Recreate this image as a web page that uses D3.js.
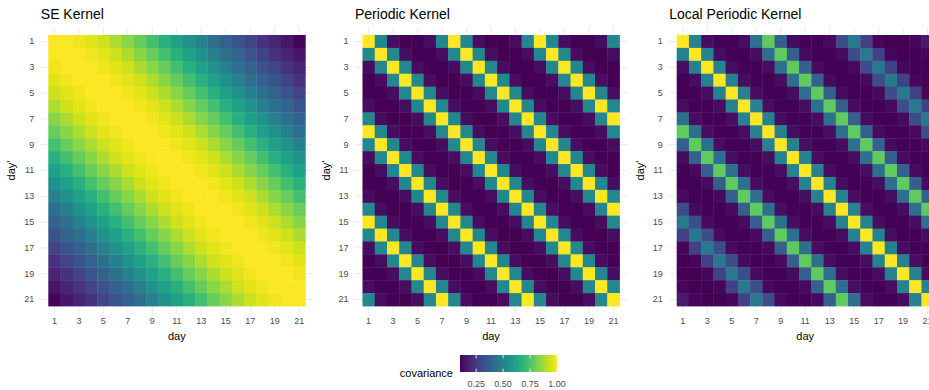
<!DOCTYPE html>
<html>
<head>
<meta charset="utf-8">
<script src="https://cdn.jsdelivr.net/npm/d3@7"></script>
<style>
  html, body { margin: 0; padding: 0; background: #ffffff; }
  svg { display: block; font-family: "Liberation Sans", Arial, sans-serif; }
</style>
</head>
<body>
<svg id="chart" width="929" height="390"></svg>
<script>
// ---- data ----
const days = [1, 2, 3, 4, 5, 6, 7, 8, 9, 10, 11, 12, 13, 14, 15, 16, 17, 18, 19, 20, 21];
const tickDays = [1, 3, 5, 7, 9, 11, 13, 15, 17, 19, 21];
const kernelTitles = ["SE Kernel", "Periodic Kernel", "Local Periodic Kernel"];
// covariance by lag |day - day'| = 0..20
const seByLag = [1.00, 0.995, 0.98, 0.96, 0.93, 0.89, 0.84, 0.79, 0.73, 0.67, 0.61,
                 0.55, 0.49, 0.43, 0.38, 0.33, 0.28, 0.23, 0.19, 0.15, 0.11];
const periodicByLag = [1.00, 0.52, 0.13, 0.10, 0.10, 0.13, 0.52, 1.00, 0.52, 0.13, 0.10,
                       0.10, 0.13, 0.52, 1.00, 0.52, 0.13, 0.10, 0.10, 0.13, 0.52];
const localPeriodicByLag = [1.00, 0.50, 0.13, 0.105, 0.105, 0.13, 0.43, 0.78, 0.37, 0.125, 0.105,
                            0.105, 0.125, 0.31, 0.46, 0.27, 0.115, 0.10, 0.10, 0.115, 0.16];
const legendTicks = [0.25, 0.50, 0.75, 1.00];
const legendTitle = "covariance";

// ---- build tables ----
const lagTables = [seByLag, periodicByLag, localPeriodicByLag];
const panels = lagTables.map((lags, k) => {
  const cells = [];
  days.forEach(d => days.forEach(dp => cells.push({ day: d, dayp: dp, value: lags[Math.abs(d - dp)] })));
  return { title: kernelTitles[k], cells };
});
const allVals = panels.flatMap(p => p.cells.map(c => c.value));
const color = d3.scaleSequential(d3.interpolateViridis).domain(d3.extent(allVals));

// ---- layout ----
const svg = d3.select("#chart");
const tileLefts = [48.3, 362.5, 676.7];
const tileW = 257, tileTop = 35, tileBottom = 306;
const gridExt = 8;
const labelGray = "#4d4d4d";

panels.forEach((p, i) => {
  const x0 = tileLefts[i];
  const x = d3.scaleBand().domain(days).range([x0, x0 + tileW]).padding(0);
  const y = d3.scaleBand().domain(days).range([tileTop, tileBottom]).padding(0);
  const g = svg.append("g");

  // grid lines (visible in panel expansion)
  tickDays.forEach(t => {
    g.append("line")
      .attr("x1", x(t) + x.bandwidth() / 2).attr("x2", x(t) + x.bandwidth() / 2)
      .attr("y1", tileTop - gridExt).attr("y2", tileBottom + gridExt)
      .attr("stroke", "#ebebeb").attr("stroke-width", 1);
    g.append("line")
      .attr("y1", y(t) + y.bandwidth() / 2).attr("y2", y(t) + y.bandwidth() / 2)
      .attr("x1", x0 - gridExt).attr("x2", x0 + tileW + gridExt)
      .attr("stroke", "#ebebeb").attr("stroke-width", 1);
  });

  // tiles
  g.selectAll("rect.tile").data(p.cells).join("rect")
    .attr("class", "tile")
    .attr("x", d => x(d.day))
    .attr("y", d => y(d.dayp))
    .attr("width", x.bandwidth() + 0.4)
    .attr("height", y.bandwidth() + 0.4)
    .attr("fill", d => color(d.value));

  // axes
  const xAxis = d3.axisBottom(x).tickValues(tickDays).tickSize(0).tickPadding(0);
  const gx = g.append("g").attr("transform", `translate(0,${tileBottom + 12})`).call(xAxis);
  gx.select(".domain").remove();
  gx.selectAll("text").attr("fill", labelGray).attr("font-size", 9).attr("dy", "0.71em")
    .attr("font-family", "Liberation Sans, Arial, sans-serif");

  const yAxis = d3.axisLeft(y).tickValues(tickDays).tickSize(0).tickPadding(0);
  const gy = g.append("g").attr("transform", `translate(${x0 - 14},0)`).call(yAxis);
  gy.select(".domain").remove();
  gy.selectAll("text").attr("fill", labelGray).attr("font-size", 9)
    .attr("font-family", "Liberation Sans, Arial, sans-serif");

  // axis titles
  g.append("text").attr("x", x0 + tileW / 2).attr("y", 340)
    .attr("text-anchor", "middle").attr("font-size", 11).attr("fill", "#000").text("day");
  g.append("text")
    .attr("transform", `translate(${x0 - 33},${(tileTop + tileBottom) / 2}) rotate(-90)`)
    .attr("text-anchor", "middle").attr("font-size", 11).attr("fill", "#000").text("day'");

  // title
  g.append("text").attr("x", x0 - 7.5).attr("y", 19)
    .attr("font-size", 14).attr("fill", "#000").text(p.title);
});

// ---- legend ----
const lx0 = 460, lx1 = 557, ly0 = 355, lh = 17;
const defs = svg.append("defs");
const grad = defs.append("linearGradient").attr("id", "vgrad").attr("x1", "0%").attr("x2", "100%");
d3.range(0, 1.0001, 0.05).forEach(s => {
  grad.append("stop").attr("offset", (s * 100) + "%").attr("stop-color", d3.interpolateViridis(s));
});
svg.append("rect").attr("x", lx0).attr("y", ly0).attr("width", lx1 - lx0).attr("height", lh)
  .attr("fill", "url(#vgrad)");
const lscale = d3.scaleLinear().domain(color.domain()).range([lx0, lx1]);
legendTicks.forEach(t => {
  const xx = lscale(t);
  svg.append("line").attr("x1", xx).attr("x2", xx).attr("y1", ly0).attr("y2", ly0 + 3.4)
    .attr("stroke", "#fff").attr("stroke-width", 0.8);
  svg.append("line").attr("x1", xx).attr("x2", xx).attr("y1", ly0 + lh - 3.4).attr("y2", ly0 + lh)
    .attr("stroke", "#fff").attr("stroke-width", 0.8);
  svg.append("text").attr("x", xx).attr("y", 387).attr("text-anchor", "middle")
    .attr("font-size", 9).attr("fill", labelGray).text(d3.format(".2f")(t));
});
svg.append("text").attr("x", 453).attr("y", 377).attr("text-anchor", "end")
  .attr("font-size", 11).attr("fill", "#000").text(legendTitle);
</script>
</body>
</html>
